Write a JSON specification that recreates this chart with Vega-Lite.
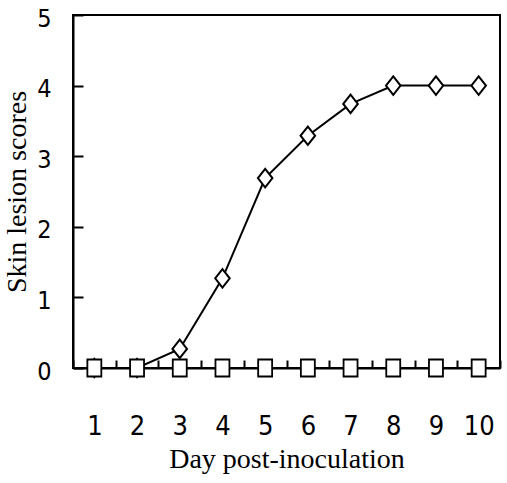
{
  "$schema": "https://vega.github.io/schema/vega-lite/v6.json",
  "autosize": {"type": "none"},
  "padding": {"left": 73, "top": 15, "right": 7, "bottom": 115},
  "width": 427,
  "height": 353,
  "background": "white",
  "config": {
    "view": {"stroke": "black", "strokeWidth": 2},
    "axis": {
      "domainColor": "black",
      "domainWidth": 2,
      "tickColor": "black",
      "tickWidth": 2,
      "grid": false,
      "labelColor": "black",
      "titleColor": "black",
      "labelFont": "DejaVu Sans Condensed, sans-serif",
      "titleFont": "Liberation Serif",
      "titleFontWeight": "normal",
      "titleFontSize": 28
    }
  },
  "data": {
    "values": [
      {"day": 1, "score": 0, "group": "A"},
      {"day": 2, "score": 0, "group": "A"},
      {"day": 3, "score": 0.27, "group": "A"},
      {"day": 4, "score": 1.27, "group": "A"},
      {"day": 5, "score": 2.69, "group": "A"},
      {"day": 6, "score": 3.29, "group": "A"},
      {"day": 7, "score": 3.74, "group": "A"},
      {"day": 8, "score": 4, "group": "A"},
      {"day": 9, "score": 4, "group": "A"},
      {"day": 10, "score": 4, "group": "A"},
      {"day": 1, "score": 0, "group": "B"},
      {"day": 2, "score": 0, "group": "B"},
      {"day": 3, "score": 0, "group": "B"},
      {"day": 4, "score": 0, "group": "B"},
      {"day": 5, "score": 0, "group": "B"},
      {"day": 6, "score": 0, "group": "B"},
      {"day": 7, "score": 0, "group": "B"},
      {"day": 8, "score": 0, "group": "B"},
      {"day": 9, "score": 0, "group": "B"},
      {"day": 10, "score": 0, "group": "B"}
    ]
  },
  "encoding": {
    "x": {
      "field": "day",
      "type": "ordinal",
      "bandPosition": 0.5,
      "scale": {"type": "band", "paddingInner": 0, "paddingOuter": 0},
      "axis": {
        "tickBand": "extent",
        "tickSize": -8,
        "labelPadding": 53,
        "labelFontSize": 27,
        "labelAngle": 0,
        "title": "Day post-inoculation",
        "titlePadding": 6
      }
    },
    "y": {
      "field": "score",
      "type": "quantitative",
      "scale": {"domain": [0, 5], "nice": false},
      "axis": {
        "values": [0, 1, 2, 3, 4, 5],
        "tickSize": -10,
        "labelPadding": 32,
        "labelOffset": 3,
        "labelFontSize": 25,
        "title": "Skin lesion scores",
        "titlePadding": 5
      }
    }
  },
  "layer": [
    {
      "transform": [{"filter": "datum.group === 'A'"}],
      "mark": {"type": "line", "color": "black", "strokeWidth": 2}
    },
    {
      "transform": [{"filter": "datum.group === 'B'"}],
      "mark": {"type": "line", "color": "black", "strokeWidth": 2}
    },
    {
      "transform": [{"filter": "datum.group === 'A'"}],
      "mark": {"type": "point", "shape": "M-0.79,0L0,-1L0.79,0L0,1Z", "size": 340, "filled": true, "fill": "white", "stroke": "black", "strokeWidth": 2, "opacity": 1}
    },
    {
      "transform": [{"filter": "datum.group === 'B'"}],
      "mark": {"type": "point", "shape": "M-0.82,-1H0.82V1H-0.82Z", "size": 290, "filled": true, "fill": "white", "stroke": "black", "strokeWidth": 1.8, "opacity": 1}
    }
  ]
}
